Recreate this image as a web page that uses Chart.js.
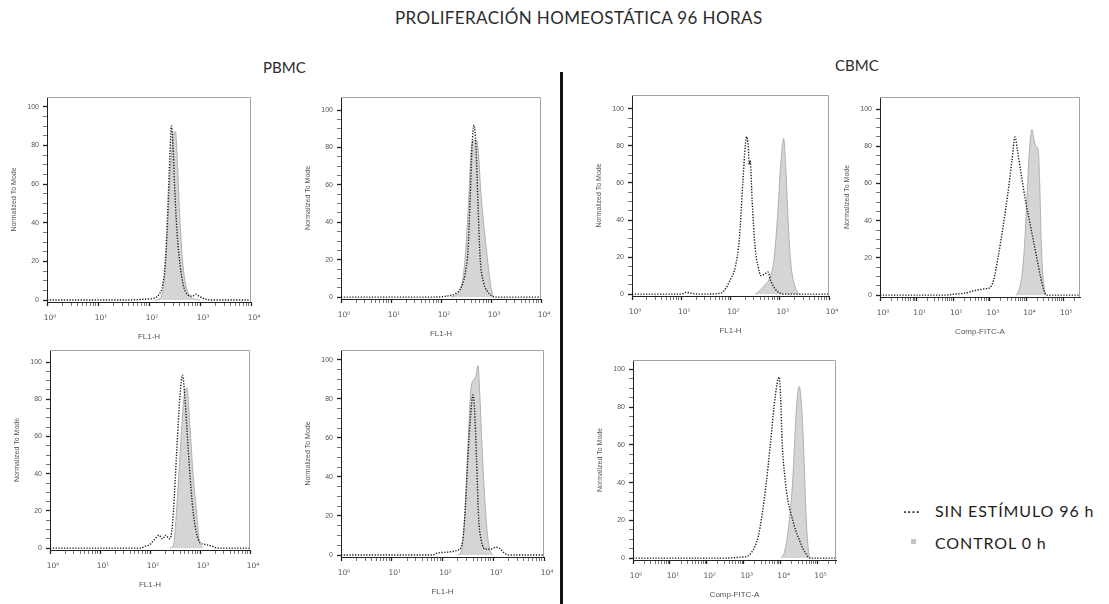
<!DOCTYPE html>
<html lang="es">
<head>
<meta charset="utf-8">
<script src="https://cdn.jsdelivr.net/npm/chart.js@4.4.1/dist/chart.umd.min.js"></script>
<style>
    body { margin: 0; width: 1109px; height: 604px; position: relative; overflow: hidden; background: #fff; font-family: Lato, "Open Sans", sans-serif; color: #2b2b2b; }
    .txt { position: absolute; white-space: nowrap; line-height: 1; }
    .leg { font-size: 16px; letter-spacing: 0.9px; color: #1e1e1e; }
    .panel { position: absolute; }
    #divider { position: absolute; left: 560px; top: 72px; width: 3px; height: 532px; background: #111; }
    #sq { position: absolute; left: 911px; top: 539px; width: 5px; height: 5px; background: #c4c4c4; }
</style>
</head>
<body>
<div class="txt" style="left:395px;top:9px;font-size:17px;letter-spacing:0.4px;">PROLIFERACIÓN HOMEOSTÁTICA 96 HORAS</div>
<div class="txt" style="left:263px;top:60px;font-size:15px;">PBMC</div>
<div class="txt" style="left:835px;top:58px;font-size:15px;">CBMC</div>
<div id="divider"></div>
<div class="txt leg" style="left:903px;top:499px;letter-spacing:0.5px;">....</div>
<div class="txt leg" style="left:935px;top:503px;">SIN ESTÍMULO 96 h</div>
<div id="sq"></div>
<div class="txt leg" style="left:935px;top:535px;">CONTROL 0 h</div>

<script>
// Histogramas: [log10(intensidad), % del modo]
// "ctrl" = CONTROL 0 h (relleno gris), "sin" = SIN ESTÍMULO 96 h (punteado)
const pbmc1Ctrl = [[2.1,0],[2.2,0.5],[2.27,5],[2.33,20],[2.38,45],[2.43,72],[2.48,86],[2.52,87],[2.56,70],[2.6,45],[2.66,20],[2.72,8],[2.8,2],[2.9,0.5],[3.0,0]];
const pbmc1Sin = [[0,0],[1.5,0],[1.95,0.5],[2.1,1],[2.2,3],[2.27,8],[2.32,20],[2.37,48],[2.41,75],[2.44,90],[2.47,80],[2.5,60],[2.55,35],[2.61,18],[2.67,8],[2.75,3],[2.85,2],[2.92,3],[2.98,2],[3.1,0.5],[3.3,0],[4,0]];

const pbmc2Ctrl = [[2.2,0],[2.3,1],[2.4,5],[2.48,20],[2.55,50],[2.6,78],[2.63,83],[2.7,84],[2.74,80],[2.8,55],[2.87,35],[2.94,18],[3.0,5],[3.05,0]];
const pbmc2Sin = [[0,0],[1.8,0],[2.1,0.5],[2.3,2],[2.4,5],[2.48,12],[2.54,25],[2.58,50],[2.62,80],[2.66,92],[2.7,80],[2.74,50],[2.78,22],[2.85,8],[2.93,3],[3.0,1],[3.1,0],[4,0]];

const pbmc3Ctrl = [[2.4,0],[2.47,2],[2.53,20],[2.6,50],[2.66,75],[2.7,85],[2.74,86],[2.8,65],[2.86,40],[2.93,20],[2.98,5],[3.05,0]];
const pbmc3Sin = [[0,0],[1.8,0],[1.9,1],[2.0,2],[2.1,5],[2.18,7],[2.25,5],[2.32,7],[2.38,5],[2.43,8],[2.47,20],[2.53,50],[2.6,82],[2.65,93],[2.7,80],[2.76,55],[2.82,32],[2.87,18],[2.93,8],[3.0,3],[3.1,2],[3.25,1],[3.35,0],[4,0]];

const pbmc4Ctrl = [[2.3,0],[2.38,3],[2.44,20],[2.5,55],[2.56,85],[2.62,90],[2.66,92],[2.7,97],[2.73,85],[2.78,55],[2.83,30],[2.88,12],[2.93,3],[3.0,0]];
const pbmc4Sin = [[0,0],[1.8,0],[1.9,1],[2.1,1.5],[2.3,2.5],[2.38,5],[2.44,20],[2.5,50],[2.55,70],[2.6,82],[2.63,75],[2.67,50],[2.71,20],[2.76,8],[2.85,3],[2.95,3],[3.05,4],[3.12,3.5],[3.2,1.5],[3.3,0],[4,0]];

const cbmc1Ctrl = [[2.5,0],[2.6,2],[2.7,5],[2.8,9],[2.88,18],[2.95,40],[3.02,70],[3.08,84],[3.12,70],[3.17,40],[3.22,18],[3.3,5],[3.38,0]];
const cbmc1Sin = [[0,0],[1.0,0],[1.1,1],[1.2,0.5],[1.4,0],[1.8,0.5],[1.9,3],[2.0,8],[2.1,15],[2.18,30],[2.25,60],[2.3,80],[2.33,85],[2.36,80],[2.38,70],[2.4,72],[2.44,50],[2.5,25],[2.56,15],[2.62,10],[2.7,11],[2.76,12],[2.82,7],[2.9,3],[3.0,0.5],[3.1,0],[4,0]];

const cbmc2Ctrl = [[3.7,0],[3.8,3],[3.9,15],[3.97,35],[4.03,60],[4.08,78],[4.15,89],[4.2,84],[4.26,80],[4.32,78],[4.36,60],[4.4,30],[4.45,10],[4.52,0]];
const cbmc2Sin = [[0,0],[1.8,0],[2.0,0.5],[2.3,1],[2.6,2.5],[2.9,3.5],[3.0,4],[3.1,8],[3.22,20],[3.37,38],[3.5,56],[3.6,72],[3.69,85],[3.75,78],[3.87,63],[3.98,50],[4.1,38],[4.2,28],[4.28,20],[4.38,10],[4.47,3],[4.55,0],[5.45,0]];

const cbmc3Ctrl = [[4.0,0],[4.1,3],[4.18,11],[4.26,25],[4.33,42],[4.4,70],[4.46,87],[4.5,91],[4.55,85],[4.61,65],[4.66,38],[4.71,15],[4.77,2],[4.82,0]];
const cbmc3Sin = [[0,0],[2.5,0],[2.9,0.5],[3.1,1],[3.21,3],[3.3,6],[3.4,12],[3.49,22],[3.6,38],[3.72,60],[3.82,80],[3.9,92],[3.96,96],[4.0,85],[4.04,62],[4.12,42],[4.2,30],[4.26,25],[4.33,20],[4.4,15],[4.5,10],[4.6,5],[4.7,2],[4.77,0],[5.5,0]];

const yMajor = [0, 20, 40, 60, 80, 100];
const supDigits = ['⁰', '¹', '²', '³', '⁴', '⁵'];
const yTitle = 'Normalized To Mode';

// caja del área de trazado de cada histograma: izquierda, arriba, derecha, abajo
const panels = [
    { box: [47, 97, 251, 302],  ctrl: pbmc1Ctrl, sin: pbmc1Sin, xMax: 4,    yMax: 105,   xTitle: 'FL1-H' },
    { box: [341, 97, 541, 299], ctrl: pbmc2Ctrl, sin: pbmc2Sin, xMax: 4,    yMax: 107,   xTitle: 'FL1-H' },
    { box: [50, 350, 250, 550], ctrl: pbmc3Ctrl, sin: pbmc3Sin, xMax: 4,    yMax: 106.5, xTitle: 'FL1-H' },
    { box: [341, 350, 544, 557], ctrl: pbmc4Ctrl, sin: pbmc4Sin, xMax: 4,   yMax: 105,   xTitle: 'FL1-H' },
    { box: [632, 95, 829, 296], ctrl: cbmc1Ctrl, sin: cbmc1Sin, xMax: 4,    yMax: 107.5, xTitle: 'FL1-H' },
    { box: [880, 97, 1080, 297], ctrl: cbmc2Ctrl, sin: cbmc2Sin, xMax: 5.46, yMax: 106.5, xTitle: 'Comp-FITC-A' },
    { box: [633, 360, 836, 560], ctrl: cbmc3Ctrl, sin: cbmc3Sin, xMax: 5.5, yMax: 105,   xTitle: 'Comp-FITC-A' }
];

const AXIS_W = 37, AXIS_H = 40, PAD = 6, PAD_R = 16;
const smallFont = { family: '"Liberation Sans", "DejaVu Sans", Arial, sans-serif', size: 7 };
const tickFont = { family: '"DejaVu Sans", "Liberation Sans", sans-serif', size: 7.5 };

// marco gris arriba y a la derecha del área de trazado
const framePlugin = {
    id: 'frame',
    afterDraw(chart) {
        const { ctx, chartArea: a } = chart;
        ctx.save();
        ctx.strokeStyle = '#a4a4a4';
        ctx.lineWidth = 1;
        ctx.beginPath();
        ctx.moveTo(a.left, a.top + 0.5);
        ctx.lineTo(a.right - 0.5, a.top + 0.5);
        ctx.lineTo(a.right - 0.5, a.bottom);
        ctx.stroke();
        ctx.restore();
    }
};

function logTicks(max) {
    const ticks = [];
    for (let d = 0; d <= Math.floor(max); d++) {
        for (let k = 1; k <= 9; k++) {
            const v = d + Math.log10(k);
            if (v <= max + 1e-9) ticks.push({ value: v, major: k === 1 });
        }
    }
    return ticks;
}

function toPoints(pairs) {
    return pairs.map(([x, y]) => ({ x, y }));
}

panels.forEach(p => {
    const [L, T, R, B] = p.box;
    const holder = document.createElement('div');
    holder.className = 'panel';
    holder.style.left = (L - AXIS_W) + 'px';
    holder.style.top = (T - PAD) + 'px';
    const canvas = document.createElement('canvas');
    canvas.width = (R - L) + AXIS_W + PAD_R;
    canvas.height = (B - T) + PAD + AXIS_H;
    canvas.style.width = canvas.width + 'px';
    canvas.style.height = canvas.height + 'px';
    holder.appendChild(canvas);
    document.body.appendChild(holder);

    new Chart(canvas.getContext('2d'), {
        type: 'line',
        data: {
            datasets: [
                {
                    label: 'SIN ESTÍMULO 96 h',
                    data: toPoints(p.sin),
                    borderColor: '#1c1c1c',
                    borderWidth: 1.4,
                    borderDash: [1.3, 1.5],
                    fill: false,
                    pointRadius: 0,
                    cubicInterpolationMode: 'monotone'
                },
                {
                    label: 'CONTROL 0 h',
                    data: toPoints(p.ctrl),
                    borderColor: '#a2a2a2',
                    borderWidth: 0.8,
                    backgroundColor: '#d5d5d5',
                    fill: 'origin',
                    pointRadius: 0,
                    cubicInterpolationMode: 'monotone'
                }
            ]
        },
        options: {
            responsive: false,
            animation: false,
            events: [],
            layout: { padding: { top: PAD, right: PAD_R, left: 0, bottom: 0 } },
            plugins: { legend: { display: false }, tooltip: { enabled: false } },
            scales: {
                x: {
                    type: 'linear',
                    min: 0,
                    max: p.xMax,
                    afterBuildTicks: s => { s.ticks = logTicks(p.xMax); },
                    // alto fijo y sin reservar sitio para la última etiqueta
                    afterFit: s => { s.height = AXIS_H; s.paddingLeft = 0; s.paddingRight = 0; },
                    grid: {
                        drawOnChartArea: false,
                        tickLength: 4,
                        color: c => (c.tick && c.tick.major) ? '#222' : '#555',
                        tickWidth: c => (c.tick && c.tick.major) ? 1.3 : 0.8
                    },
                    border: { color: '#222', width: 1 },
                    ticks: {
                        autoSkip: false,
                        maxRotation: 0,
                        padding: 8,
                        labelOffset: 3,
                        font: tickFont,
                        color: '#555',
                        callback: (v, i, ticks) => ticks[i].major ? '10' + supDigits[Math.round(v)] : ''
                    },
                    title: { display: true, text: p.xTitle, font: { ...smallFont, size: 8 }, color: '#555', padding: 0 }
                },
                y: {
                    min: -1,
                    max: p.yMax,
                    afterBuildTicks: s => {
                        const t = [];
                        for (let v = 0; v <= 100; v += 5) t.push({ value: v, major: yMajor.includes(v) });
                        s.ticks = t;
                    },
                    afterFit: s => { s.width = AXIS_W; s.paddingTop = 0; s.paddingBottom = 0; },
                    grid: {
                        drawOnChartArea: false,
                        tickLength: 4,
                        color: c => (c.tick && c.tick.major) ? '#222' : '#555',
                        tickWidth: c => (c.tick && c.tick.major) ? 1.3 : 0.8
                    },
                    border: { color: '#222', width: 1 },
                    ticks: {
                        autoSkip: false,
                        padding: 4,
                        font: smallFont,
                        color: '#555',
                        callback: (v, i, ticks) => ticks[i].major ? String(v) : ''
                    },
                    title: { display: true, text: yTitle, font: smallFont, color: '#555', padding: 0 }
                }
            }
        },
        plugins: [framePlugin]
    });
});
</script>
</body>
</html>
